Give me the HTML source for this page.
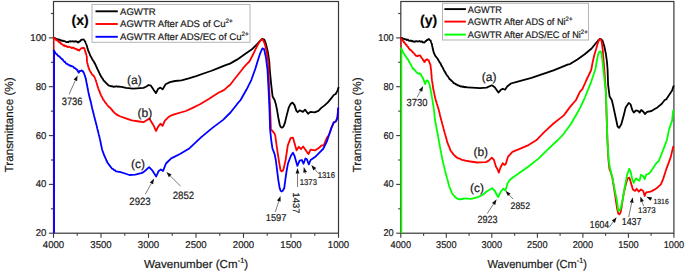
<!DOCTYPE html>
<html><head><meta charset="utf-8"><style>
html,body{margin:0;padding:0;background:#fff;}
body{width:685px;height:272px;overflow:hidden;position:relative;}
svg{position:absolute;left:0;top:0;}
text{text-rendering:geometricPrecision;font-family:"Liberation Sans",sans-serif;fill:#1a1a1a;stroke:#1a1a1a;stroke-width:0.2px;}
.tk{font-size:9.9px;}
.an{font-size:9.5px;}
.an2{font-size:8.3px;}
.lg{font-size:9.6px;}
.lb{font-size:11.6px;}
.lby{font-size:11.7px;}
.pl{font-size:12px;}
.bd{font-size:14px;font-weight:bold;fill:#000;}
</style></head><body>
<svg width="685" height="272" viewBox="0 0 685 272">
<rect x="53.5" y="1.5" width="285.0" height="231.7" fill="none" stroke="#383838" stroke-width="1.2"/>
<line x1="48.9" y1="233.2" x2="53.5" y2="233.2" stroke="#383838" stroke-width="1.1"/>
<line x1="50.9" y1="208.8" x2="53.5" y2="208.8" stroke="#383838" stroke-width="1.1"/>
<line x1="48.9" y1="184.4" x2="53.5" y2="184.4" stroke="#383838" stroke-width="1.1"/>
<line x1="50.9" y1="160.0" x2="53.5" y2="160.0" stroke="#383838" stroke-width="1.1"/>
<line x1="48.9" y1="135.6" x2="53.5" y2="135.6" stroke="#383838" stroke-width="1.1"/>
<line x1="50.9" y1="111.1" x2="53.5" y2="111.1" stroke="#383838" stroke-width="1.1"/>
<line x1="48.9" y1="86.7" x2="53.5" y2="86.7" stroke="#383838" stroke-width="1.1"/>
<line x1="50.9" y1="62.3" x2="53.5" y2="62.3" stroke="#383838" stroke-width="1.1"/>
<line x1="48.9" y1="37.9" x2="53.5" y2="37.9" stroke="#383838" stroke-width="1.1"/>
<line x1="50.9" y1="13.5" x2="53.5" y2="13.5" stroke="#383838" stroke-width="1.1"/>
<line x1="53.5" y1="233.2" x2="53.5" y2="237.79999999999998" stroke="#383838" stroke-width="1.1"/>
<line x1="77.2" y1="233.2" x2="77.2" y2="235.79999999999998" stroke="#383838" stroke-width="1.1"/>
<line x1="101.0" y1="233.2" x2="101.0" y2="237.79999999999998" stroke="#383838" stroke-width="1.1"/>
<line x1="124.8" y1="233.2" x2="124.8" y2="235.79999999999998" stroke="#383838" stroke-width="1.1"/>
<line x1="148.5" y1="233.2" x2="148.5" y2="237.79999999999998" stroke="#383838" stroke-width="1.1"/>
<line x1="172.2" y1="233.2" x2="172.2" y2="235.79999999999998" stroke="#383838" stroke-width="1.1"/>
<line x1="196.0" y1="233.2" x2="196.0" y2="237.79999999999998" stroke="#383838" stroke-width="1.1"/>
<line x1="219.8" y1="233.2" x2="219.8" y2="235.79999999999998" stroke="#383838" stroke-width="1.1"/>
<line x1="243.5" y1="233.2" x2="243.5" y2="237.79999999999998" stroke="#383838" stroke-width="1.1"/>
<line x1="267.2" y1="233.2" x2="267.2" y2="235.79999999999998" stroke="#383838" stroke-width="1.1"/>
<line x1="291.0" y1="233.2" x2="291.0" y2="237.79999999999998" stroke="#383838" stroke-width="1.1"/>
<line x1="314.8" y1="233.2" x2="314.8" y2="235.79999999999998" stroke="#383838" stroke-width="1.1"/>
<line x1="338.5" y1="233.2" x2="338.5" y2="237.79999999999998" stroke="#383838" stroke-width="1.1"/>
<text class="tk" transform="translate(46.40,236.20) scale(0.975,1)" text-anchor="end">20</text>
<text class="tk" transform="translate(46.40,187.38) scale(0.975,1)" text-anchor="end">40</text>
<text class="tk" transform="translate(46.40,138.56) scale(0.975,1)" text-anchor="end">60</text>
<text class="tk" transform="translate(46.40,89.74) scale(0.975,1)" text-anchor="end">80</text>
<text class="tk" transform="translate(46.40,40.92) scale(0.975,1)" text-anchor="end">100</text>
<text class="tk" transform="translate(53.50,247.60) scale(0.975,1)" text-anchor="middle">4000</text>
<text class="tk" transform="translate(101.00,247.60) scale(0.975,1)" text-anchor="middle">3500</text>
<text class="tk" transform="translate(148.50,247.60) scale(0.975,1)" text-anchor="middle">3000</text>
<text class="tk" transform="translate(196.00,247.60) scale(0.975,1)" text-anchor="middle">2500</text>
<text class="tk" transform="translate(243.50,247.60) scale(0.975,1)" text-anchor="middle">2000</text>
<text class="tk" transform="translate(291.00,247.60) scale(0.975,1)" text-anchor="middle">1500</text>
<text class="tk" transform="translate(338.50,247.60) scale(0.975,1)" text-anchor="middle">1000</text>
<line x1="54.0" y1="37.8" x2="54.0" y2="233.2" stroke="#f00" stroke-width="1.3" stroke-opacity="0.75"/>
<line x1="54.1" y1="50.0" x2="54.1" y2="233.2" stroke="#00f" stroke-width="1.7"/>
<polyline points="53.70,37.60 54.22,37.91 54.74,38.37 55.25,38.19 55.77,38.63 56.29,39.04 56.81,38.87 57.33,39.27 57.85,39.48 58.36,39.80 58.88,39.27 59.40,39.90 59.96,39.77 60.52,40.69 61.08,40.63 61.65,40.36 62.21,40.96 62.77,40.62 63.33,40.96 63.89,41.20 64.45,41.18 65.02,41.27 65.58,41.77 66.14,42.06 66.70,42.10 67.25,41.85 67.80,42.07 68.35,42.27 68.90,41.35 69.45,41.46 70.00,41.21 70.55,41.65 71.10,41.40 71.68,41.32 72.26,41.35 72.83,41.17 73.41,41.65 73.99,41.63 74.57,41.35 75.14,41.69 75.72,41.16 76.30,41.40 76.85,41.53 77.40,42.36 77.95,41.98 78.50,42.50 78.91,41.81 79.33,41.34 79.74,41.54 80.16,41.30 80.57,40.24 80.99,40.25 81.40,39.90 81.95,39.71 82.50,39.55 83.05,39.36 83.60,39.50 83.97,39.87 84.35,40.13 84.72,41.30 85.10,41.40 85.31,41.64 85.53,42.46 85.74,43.07 85.96,43.60 86.17,43.95 86.39,44.51 86.60,45.00 86.76,45.97 86.91,45.86 87.07,46.46 87.22,47.13 87.38,48.11 87.53,48.40 87.69,48.95 87.84,49.24 88.00,50.20 88.24,50.41 88.48,51.44 88.72,51.61 88.96,52.36 89.20,52.71 89.44,53.33 89.68,53.77 89.80,54.25 89.92,54.97 90.16,55.26 90.40,55.70 90.67,56.24 90.94,56.54 91.21,57.35 91.48,57.64 91.75,58.05 92.02,58.88 92.29,59.31 92.56,59.84 92.83,60.21 93.10,60.60 93.42,60.93 93.73,61.57 94.05,61.99 94.37,62.84 94.68,62.89 95.00,63.70 95.24,64.41 95.49,64.57 95.73,65.18 95.98,65.91 96.22,66.47 96.47,66.91 96.71,67.47 96.96,68.02 97.20,68.50 97.44,69.08 97.69,69.31 97.93,69.95 98.18,70.30 98.42,71.15 98.67,71.51 98.91,72.00 99.16,72.54 99.40,73.20 99.66,73.96 99.93,73.98 100.19,74.94 100.45,75.44 100.71,75.52 100.97,76.40 101.24,76.52 101.50,77.20 101.83,77.77 102.16,77.94 102.49,78.55 102.81,79.14 103.14,79.55 103.47,80.31 103.80,80.60 104.24,81.17 104.68,81.28 105.12,82.07 105.56,82.27 106.00,83.00 106.44,83.20 106.88,83.73 107.32,84.09 107.76,84.63 108.20,85.00 108.78,85.54 109.35,85.67 109.92,85.78 110.50,86.00 111.20,86.37 111.90,86.13 112.60,86.50 113.15,86.63 113.70,86.78 114.25,86.77 114.80,86.51 115.35,86.56 115.90,86.43 116.45,86.46 117.00,86.50 121.50,86.80 125.90,87.90 133.20,88.70 143.50,87.90 146.00,86.80 148.70,85.00 150.90,85.70 153.80,90.10 156.00,93.10 158.20,88.70 160.40,87.60 162.60,89.40 165.60,84.30 170.00,82.10 175.00,81.00 181.50,80.30 188.80,78.40 196.20,76.20 203.50,73.50 210.90,71.00 218.20,68.10 225.60,65.10 230.00,63.60 237.40,59.40 244.70,54.30 251.60,49.60 257.10,44.10 259.80,41.20 262.10,38.90 264.30,39.70 265.50,42.50 266.50,46.30 267.50,50.50 268.20,54.00 269.30,62.00 269.80,70.00 271.20,84.70 272.60,96.50 274.60,100.00 275.80,103.90 277.10,110.30 278.40,118.00 279.70,124.50 280.60,126.80 281.60,127.70 282.60,127.40 283.50,126.40 284.80,123.20 286.70,115.40 288.70,107.70 290.60,103.90 292.50,102.60 294.50,105.10 296.40,110.90 297.70,112.20 299.60,110.30 302.90,111.90 305.10,109.70 308.10,113.80 310.30,111.90 314.70,112.40 318.40,110.90 321.30,107.90 324.30,105.60 327.90,102.40 331.60,97.90 333.80,95.00 335.70,94.00 337.60,90.30 338.50,87.60" fill="none" stroke="#000" stroke-width="1.8" stroke-linejoin="round" stroke-linecap="round"/>
<polyline points="53.70,37.80 54.18,38.53 54.65,38.19 55.12,38.93 55.60,39.22 56.08,40.00 56.55,39.84 57.02,40.26 57.50,40.74 57.98,40.92 58.45,41.75 58.92,42.08 59.40,42.10 59.85,42.66 60.30,42.43 60.75,43.63 61.20,43.59 61.65,44.00 62.10,44.31 62.55,44.65 63.00,45.00 63.53,45.60 64.06,45.22 64.59,45.32 65.11,46.31 65.64,45.86 66.17,46.09 66.70,46.50 67.25,46.58 67.80,47.13 68.35,46.80 68.90,46.61 69.45,46.98 70.00,47.08 70.55,47.03 71.10,47.60 71.70,48.03 72.30,47.97 72.90,47.51 73.50,47.69 74.10,48.00 74.68,48.71 75.26,48.74 75.84,48.79 76.42,49.19 77.00,49.40 77.55,50.11 78.10,49.72 78.65,50.34 79.20,50.50 79.64,49.62 80.08,49.61 80.52,48.94 80.96,48.60 81.40,48.30 81.95,48.03 82.50,47.88 83.05,48.13 83.60,47.60 83.97,48.08 84.33,48.37 84.70,49.40 84.86,50.23 85.01,50.84 85.17,51.29 85.33,51.33 85.49,51.91 85.64,52.81 85.80,53.10 85.97,53.29 86.13,53.84 86.30,54.81 86.47,55.12 86.63,55.90 86.80,56.50 86.82,56.76 86.84,58.05 86.87,58.20 86.89,58.63 86.91,59.16 86.93,59.70 86.96,60.72 86.98,61.30 87.00,61.60 87.14,62.41 87.28,63.09 87.42,63.34 87.57,63.70 87.71,64.28 87.85,64.57 87.99,65.33 88.13,65.99 88.28,66.88 88.42,67.17 88.56,67.29 88.70,68.20 88.98,68.78 89.25,69.16 89.53,70.13 89.80,70.70 90.08,71.04 90.35,71.64 90.62,71.98 90.90,72.60 91.30,73.20 91.70,73.83 92.10,74.40 92.54,75.03 92.98,75.17 93.42,75.61 93.86,76.28 94.30,76.60 94.51,77.12 94.73,77.57 94.94,78.13 95.16,78.61 95.37,79.04 95.59,79.85 95.80,80.30 95.97,81.10 96.14,81.54 96.31,82.07 96.48,82.45 96.65,83.07 96.82,83.46 96.98,84.37 97.15,84.67 97.32,85.23 97.49,86.20 97.66,86.38 97.83,87.33 98.00,87.60 98.20,88.21 98.40,88.83 98.60,89.29 98.80,89.55 99.00,90.41 99.20,90.67 99.40,91.30 99.60,91.67 99.80,92.16 100.00,92.88 100.20,93.50 100.46,93.74 100.73,94.50 100.99,95.32 101.25,95.94 101.52,96.14 101.78,96.48 102.05,97.16 102.31,97.53 102.57,98.16 102.84,98.94 103.10,99.40 103.47,99.99 103.83,100.15 104.20,100.94 104.57,101.42 104.93,101.92 105.30,102.50 105.67,102.75 106.03,103.37 106.40,103.66 106.77,104.48 107.13,104.92 107.50,105.30 107.95,105.85 108.40,106.19 108.85,107.00 109.30,107.20 109.78,107.57 110.25,107.92 110.72,108.47 111.20,109.00 111.60,109.72 112.00,109.74 112.40,110.57 112.80,111.15 113.20,111.57 113.60,111.81 114.00,112.30 114.44,112.64 114.89,113.27 115.33,113.54 115.77,113.97 116.21,113.96 116.66,114.59 117.10,114.90 120.50,116.50 124.40,117.80 131.80,120.30 139.10,121.50 143.50,122.20 149.40,118.50 151.60,122.20 153.80,125.90 156.00,131.00 158.20,126.60 160.40,123.70 162.60,125.90 164.90,120.70 168.50,117.10 171.50,115.30 175.00,114.10 185.90,111.00 193.20,107.60 200.00,104.30 209.20,98.80 218.40,92.80 223.90,90.10 227.60,86.80 230.00,85.00 234.80,78.80 239.00,73.50 243.10,68.20 246.50,64.30 249.40,61.50 251.50,57.50 253.80,53.00 256.00,48.20 258.20,44.10 260.00,41.20 261.30,39.60 262.30,39.30 263.20,40.30 264.40,43.00 265.40,46.30 266.30,50.00 267.00,54.00 268.20,62.00 268.60,70.00 269.00,84.70 269.70,99.40 270.40,115.00 270.90,129.40 272.40,130.90 274.60,133.80 275.30,136.00 276.80,146.80 279.00,161.50 280.50,170.30 281.60,171.40 282.70,170.80 283.60,169.00 285.60,160.00 287.80,145.30 290.70,137.90 292.90,137.60 294.70,143.80 296.60,150.40 298.80,146.80 301.00,149.00 303.20,146.50 305.40,149.70 308.40,154.10 310.60,149.70 315.00,150.40 319.40,147.50 321.60,145.30 323.80,145.30 326.80,137.90 329.00,135.00 331.40,128.00 333.80,122.60 336.00,121.50 337.50,117.30 338.20,108.50" fill="none" stroke="#f00" stroke-width="1.8" stroke-linejoin="round" stroke-linecap="round"/>
<polyline points="53.70,50.60 54.07,50.71 54.43,51.97 54.80,51.73 55.17,52.75 55.53,53.32 55.90,53.50 56.31,54.09 56.72,54.06 57.13,54.48 57.54,55.18 57.95,55.77 58.36,55.87 58.77,56.13 59.18,56.36 59.59,56.75 60.00,57.20 60.41,57.81 60.83,57.96 61.24,58.47 61.65,58.97 62.06,59.38 62.47,59.26 62.89,59.85 63.30,60.50 63.71,61.10 64.12,61.39 64.54,62.04 64.95,61.75 65.36,62.32 65.77,62.98 66.19,63.61 66.60,63.80 67.15,63.81 67.70,64.60 68.25,64.57 68.80,64.76 69.35,65.51 69.90,65.50 70.46,65.37 71.02,66.33 71.58,65.99 72.14,66.26 72.70,66.60 73.25,66.73 73.80,67.37 74.35,68.11 74.90,68.20 75.34,68.29 75.78,68.93 76.22,69.17 76.66,69.38 77.10,69.90 77.42,70.11 77.74,71.16 78.06,71.44 78.38,72.03 78.70,72.60 79.07,72.16 79.43,71.18 79.80,71.00 80.37,71.09 80.93,70.95 81.50,70.40 82.07,70.55 82.63,71.42 83.20,71.50 83.43,72.24 83.66,72.43 83.89,72.96 84.11,73.35 84.34,74.21 84.57,74.80 84.80,75.40 84.96,75.95 85.11,76.50 85.27,77.12 85.43,77.29 85.59,77.94 85.74,78.80 85.90,79.30 86.01,79.85 86.12,80.15 86.23,80.81 86.34,82.01 86.45,82.42 86.56,82.92 86.67,83.16 86.78,83.79 86.89,84.61 87.00,85.00 87.12,85.71 87.25,86.43 87.38,86.53 87.50,87.60 87.62,88.36 87.73,88.47 87.85,89.15 87.96,89.90 88.08,90.85 88.19,90.93 88.31,91.72 88.42,91.89 88.54,93.12 88.65,93.07 88.77,93.90 88.88,94.59 89.00,95.00 89.14,95.73 89.28,96.05 89.41,96.78 89.55,96.76 89.62,97.73 89.69,98.19 89.83,98.35 89.96,98.94 90.10,99.18 90.24,99.93 90.38,100.63 90.51,100.97 90.65,101.26 90.79,101.88 90.86,102.26 90.92,103.04 91.06,102.99 91.20,103.80 91.33,104.65 91.45,104.77 91.58,105.47 91.71,106.29 91.84,106.53 91.96,107.19 92.09,107.54 92.22,108.59 92.35,109.16 92.47,109.24 92.60,110.00 92.74,110.31 92.87,111.06 93.01,111.62 93.15,112.31 93.28,112.59 93.42,113.27 93.55,113.55 93.69,114.12 93.83,114.57 93.96,115.39 94.10,115.90 94.24,116.49 94.39,117.08 94.53,117.83 94.67,118.01 94.81,118.59 94.96,119.22 95.10,120.07 95.24,120.24 95.39,120.79 95.53,121.43 95.67,122.14 95.81,122.45 95.96,122.95 96.10,123.84 96.24,124.30 96.39,124.86 96.53,125.08 96.67,125.78 96.81,126.25 96.96,126.96 97.10,127.60 97.23,128.38 97.36,128.97 97.50,129.42 97.63,129.67 97.76,130.32 97.89,131.06 98.02,131.26 98.15,131.83 98.29,132.56 98.42,132.87 98.55,133.48 98.68,133.95 98.81,134.77 98.95,135.12 99.08,135.40 99.21,135.89 99.34,136.80 99.47,137.02 99.60,137.89 99.74,138.16 99.87,138.88 100.00,139.40 100.12,139.86 100.23,140.61 100.35,140.85 100.46,141.58 100.58,142.28 100.69,142.60 100.81,143.60 100.93,144.16 101.04,144.70 101.16,145.24 101.27,145.80 101.39,146.14 101.51,146.86 101.62,147.15 101.74,147.51 101.85,148.58 101.97,149.14 102.08,149.30 102.20,150.00 102.40,150.46 102.60,150.91 102.80,151.74 103.00,151.95 103.20,152.87 103.40,152.94 103.60,153.70 103.80,154.46 104.00,154.82 104.20,155.15 104.40,155.90 104.63,156.13 104.86,157.02 105.09,157.17 105.32,157.80 105.55,158.50 105.78,158.83 106.02,159.18 106.25,160.14 106.48,160.60 106.71,161.04 106.94,161.24 107.17,161.98 107.40,162.50 107.74,163.23 108.08,163.41 108.42,163.71 108.75,164.58 109.09,164.68 109.43,165.24 109.77,165.48 110.11,166.35 110.45,166.69 110.78,167.06 111.12,167.49 111.46,167.85 111.80,168.40 112.29,168.70 112.78,169.05 113.27,169.08 113.76,169.82 114.24,170.16 114.73,170.05 115.22,170.44 115.71,171.11 116.20,171.30 120.60,172.10 125.00,173.50 129.40,175.00 135.30,174.70 141.20,173.20 143.20,172.40 146.00,170.00 149.10,167.20 152.00,170.10 156.20,176.50 158.70,170.90 160.90,169.40 163.10,170.90 166.00,163.50 171.20,158.40 180.00,154.00 188.80,148.80 192.80,145.10 201.00,137.40 212.10,128.10 223.10,119.90 230.50,112.50 237.00,104.20 240.60,100.00 243.40,95.00 246.40,89.80 251.40,79.80 255.50,68.20 258.00,60.00 260.10,53.50 262.40,48.40 264.10,49.10 266.00,57.90 267.50,70.00 268.60,90.00 269.50,110.00 270.10,129.40 271.20,140.00 272.40,148.20 274.60,154.10 275.80,160.00 277.10,170.30 278.40,180.60 279.70,188.30 280.60,190.80 281.60,191.50 282.70,190.80 284.20,188.30 285.40,179.30 286.70,170.30 287.90,163.80 290.70,156.30 292.90,152.60 294.40,155.60 297.40,165.90 299.60,160.70 301.80,160.00 303.50,163.70 305.40,158.50 306.90,159.30 308.80,164.40 310.60,160.00 315.00,157.10 319.40,152.60 323.10,149.00 326.80,141.60 329.00,135.00 331.60,127.40 333.80,122.20 336.00,121.20 337.50,117.10 338.20,108.20" fill="none" stroke="#00f" stroke-width="1.8" stroke-linejoin="round" stroke-linecap="round"/>
<rect x="92" y="4.5" width="158" height="37.8" fill="#fff" stroke="#b4b4b4" stroke-width="1"/>
<line x1="95.5" y1="11.3" x2="117.8" y2="11.3" stroke="#000" stroke-width="1.9"/>
<text class="lg" x="120.00" y="14.70">AGWTR</text>
<line x1="95.5" y1="24.0" x2="117.8" y2="24.0" stroke="#f00" stroke-width="1.9"/>
<text class="lg" x="120.00" y="27.40">AGWTR After ADS of Cu<tspan dy="-4.3" font-size="6.3">2+</tspan></text>
<line x1="95.5" y1="36.8" x2="117.8" y2="36.8" stroke="#00f" stroke-width="1.9"/>
<text class="lg" x="120.00" y="40.20">AGWTR After ADS/EC of Cu<tspan dy="-4.3" font-size="6.3">2+</tspan></text>
<text class="bd" x="71.50" y="24.90">(x)</text>
<text class="lb" x="144.00" y="267.60">Wavenumber (Cm<tspan dy="-4.5" font-size="7.5">-1</tspan><tspan dy="4.5">)</tspan></text>
<text class="lby" transform="translate(13.1,172.4) rotate(-90)">Transmittance (%)</text>
<rect x="400.8" y="1.5" width="273.09999999999997" height="231.7" fill="none" stroke="#383838" stroke-width="1.2"/>
<line x1="396.2" y1="233.2" x2="400.8" y2="233.2" stroke="#383838" stroke-width="1.1"/>
<line x1="398.2" y1="208.8" x2="400.8" y2="208.8" stroke="#383838" stroke-width="1.1"/>
<line x1="396.2" y1="184.4" x2="400.8" y2="184.4" stroke="#383838" stroke-width="1.1"/>
<line x1="398.2" y1="160.0" x2="400.8" y2="160.0" stroke="#383838" stroke-width="1.1"/>
<line x1="396.2" y1="135.6" x2="400.8" y2="135.6" stroke="#383838" stroke-width="1.1"/>
<line x1="398.2" y1="111.1" x2="400.8" y2="111.1" stroke="#383838" stroke-width="1.1"/>
<line x1="396.2" y1="86.7" x2="400.8" y2="86.7" stroke="#383838" stroke-width="1.1"/>
<line x1="398.2" y1="62.3" x2="400.8" y2="62.3" stroke="#383838" stroke-width="1.1"/>
<line x1="396.2" y1="37.9" x2="400.8" y2="37.9" stroke="#383838" stroke-width="1.1"/>
<line x1="398.2" y1="13.5" x2="400.8" y2="13.5" stroke="#383838" stroke-width="1.1"/>
<line x1="400.8" y1="233.2" x2="400.8" y2="237.79999999999998" stroke="#383838" stroke-width="1.1"/>
<line x1="423.6" y1="233.2" x2="423.6" y2="235.79999999999998" stroke="#383838" stroke-width="1.1"/>
<line x1="446.3" y1="233.2" x2="446.3" y2="237.79999999999998" stroke="#383838" stroke-width="1.1"/>
<line x1="469.1" y1="233.2" x2="469.1" y2="235.79999999999998" stroke="#383838" stroke-width="1.1"/>
<line x1="491.8" y1="233.2" x2="491.8" y2="237.79999999999998" stroke="#383838" stroke-width="1.1"/>
<line x1="514.6" y1="233.2" x2="514.6" y2="235.79999999999998" stroke="#383838" stroke-width="1.1"/>
<line x1="537.4" y1="233.2" x2="537.4" y2="237.79999999999998" stroke="#383838" stroke-width="1.1"/>
<line x1="560.1" y1="233.2" x2="560.1" y2="235.79999999999998" stroke="#383838" stroke-width="1.1"/>
<line x1="582.9" y1="233.2" x2="582.9" y2="237.79999999999998" stroke="#383838" stroke-width="1.1"/>
<line x1="605.6" y1="233.2" x2="605.6" y2="235.79999999999998" stroke="#383838" stroke-width="1.1"/>
<line x1="628.4" y1="233.2" x2="628.4" y2="237.79999999999998" stroke="#383838" stroke-width="1.1"/>
<line x1="651.1" y1="233.2" x2="651.1" y2="235.79999999999998" stroke="#383838" stroke-width="1.1"/>
<line x1="673.9" y1="233.2" x2="673.9" y2="237.79999999999998" stroke="#383838" stroke-width="1.1"/>
<text class="tk" transform="translate(393.70,236.20) scale(0.931,1)" text-anchor="end">20</text>
<text class="tk" transform="translate(393.70,187.38) scale(0.931,1)" text-anchor="end">40</text>
<text class="tk" transform="translate(393.70,138.56) scale(0.931,1)" text-anchor="end">60</text>
<text class="tk" transform="translate(393.70,89.74) scale(0.931,1)" text-anchor="end">80</text>
<text class="tk" transform="translate(393.70,40.92) scale(0.931,1)" text-anchor="end">100</text>
<text class="tk" transform="translate(400.80,247.60) scale(0.931,1)" text-anchor="middle">4000</text>
<text class="tk" transform="translate(446.32,247.60) scale(0.931,1)" text-anchor="middle">3500</text>
<text class="tk" transform="translate(491.83,247.60) scale(0.931,1)" text-anchor="middle">3000</text>
<text class="tk" transform="translate(537.35,247.60) scale(0.931,1)" text-anchor="middle">2500</text>
<text class="tk" transform="translate(582.87,247.60) scale(0.931,1)" text-anchor="middle">2000</text>
<text class="tk" transform="translate(628.38,247.60) scale(0.931,1)" text-anchor="middle">1500</text>
<text class="tk" transform="translate(673.90,247.60) scale(0.931,1)" text-anchor="middle">1000</text>
<line x1="401.3" y1="38" x2="401.3" y2="233.2" stroke="#f00" stroke-width="1.3" stroke-opacity="0.75"/>
<line x1="401.40000000000003" y1="47.8" x2="401.40000000000003" y2="233.2" stroke="#0f0" stroke-width="1.7"/>
<polyline points="400.90,37.80 401.45,37.80 402.00,37.92 402.55,38.59 403.10,38.54 403.65,38.90 404.20,38.78 404.75,39.38 405.30,39.48 405.85,39.37 406.40,39.50 406.96,40.07 407.52,39.64 408.08,39.75 408.65,40.54 409.21,40.75 409.77,40.78 410.33,40.89 410.89,40.44 411.45,40.80 412.02,41.44 412.58,40.92 413.14,41.36 413.70,41.70 414.29,41.39 414.88,41.95 415.47,41.24 416.06,41.06 416.65,41.19 417.24,41.66 417.83,41.30 418.42,41.47 419.01,41.32 419.60,41.00 420.15,41.52 420.70,41.82 421.25,41.69 421.80,41.35 422.35,41.57 422.90,42.48 423.45,42.36 424.00,42.50 424.41,42.58 424.83,41.87 425.24,41.83 425.66,40.93 426.07,41.00 426.49,40.60 426.90,39.90 427.45,40.06 428.00,39.43 428.55,39.11 429.10,39.10 429.60,39.77 430.10,40.26 430.60,40.60 430.82,41.00 431.04,42.01 431.26,42.74 431.48,43.31 431.70,43.60 431.82,43.87 431.94,44.76 432.07,45.48 432.19,45.97 432.31,46.20 432.43,46.69 432.56,47.67 432.68,48.51 432.80,48.70 432.94,48.86 433.07,50.04 433.21,50.11 433.35,50.76 433.49,51.79 433.62,52.15 433.76,52.12 433.90,53.00 434.16,53.42 434.42,53.99 434.68,54.71 434.94,55.28 435.20,55.60 435.54,56.33 435.89,56.35 436.23,57.13 436.57,57.47 436.91,57.76 437.26,58.31 437.60,58.80 437.90,59.39 438.20,59.56 438.50,60.49 438.80,60.83 439.10,61.22 439.40,61.95 439.70,62.41 440.00,62.80 440.30,63.04 440.60,63.85 440.90,64.30 441.16,64.97 441.42,65.53 441.67,66.02 441.93,66.27 442.19,66.73 442.45,67.08 442.71,67.57 442.97,68.18 443.23,68.55 443.48,69.09 443.74,69.86 444.00,70.20 444.30,70.81 444.60,71.53 444.90,72.00 445.20,72.30 445.50,72.82 445.80,73.60 446.14,73.99 446.47,74.74 446.81,74.78 447.15,75.54 447.48,76.22 447.82,76.25 448.15,76.76 448.49,77.35 448.83,77.65 449.16,78.60 449.50,78.80 449.90,79.36 450.30,79.40 450.70,79.74 451.10,80.58 451.50,80.93 451.90,81.10 452.30,81.32 452.70,81.74 453.10,82.32 453.50,83.07 453.90,83.20 454.39,83.47 454.88,83.50 455.38,83.79 455.87,84.27 456.36,84.33 456.85,84.61 457.34,85.24 457.83,85.25 458.32,85.38 458.82,85.46 459.31,85.93 459.80,86.20 460.36,86.12 460.92,86.63 461.48,86.40 462.05,86.68 462.61,86.83 463.17,86.53 463.73,86.92 464.29,87.23 464.85,86.78 465.42,86.90 465.98,87.09 466.54,87.46 467.10,87.40 475.90,87.90 480.00,88.20 486.60,87.60 491.80,85.30 494.70,87.20 498.40,92.60 500.60,90.10 502.80,88.70 505.00,89.70 507.20,86.50 510.90,83.50 516.80,81.80 524.10,79.90 531.50,77.90 538.80,75.40 546.20,72.90 553.50,70.30 560.90,67.40 568.20,64.40 570.00,64.10 577.40,59.40 584.70,54.30 591.60,48.50 596.00,43.00 598.20,40.50 599.90,38.80 601.30,39.30 602.60,40.80 604.30,46.30 605.90,54.00 607.00,62.00 607.60,70.00 608.10,84.70 609.60,96.50 611.80,100.00 613.20,105.90 615.40,116.20 617.60,126.50 619.10,127.90 621.30,124.30 623.50,116.20 625.70,107.40 628.70,102.90 630.60,104.40 632.40,110.30 633.80,112.50 636.00,110.30 638.20,111.00 639.70,112.50 641.20,110.00 643.40,111.80 644.90,114.00 647.10,111.80 651.50,111.00 655.10,108.80 657.40,107.40 661.80,103.70 664.70,100.00 666.20,99.40 669.10,95.00 672.10,90.60 673.50,86.20" fill="none" stroke="#000" stroke-width="1.8" stroke-linejoin="round" stroke-linecap="round"/>
<polyline points="400.90,38.00 401.26,38.48 401.61,38.91 401.97,39.75 402.33,40.21 402.69,40.69 403.04,40.82 403.40,41.40 403.77,42.26 404.15,42.02 404.52,43.01 404.90,43.35 405.27,43.37 405.65,44.50 406.02,44.71 406.40,45.00 406.76,45.08 407.12,46.15 407.49,46.55 407.85,46.87 408.21,46.87 408.57,47.92 408.94,48.66 409.30,48.70 409.71,49.49 410.13,49.35 410.54,50.09 410.96,50.05 411.37,50.79 411.79,50.94 412.20,51.60 412.65,52.10 413.10,52.25 413.55,53.00 414.00,53.50 414.43,53.82 414.87,54.12 415.30,55.09 415.73,55.55 416.17,55.67 416.60,56.00 417.15,56.18 417.70,55.94 418.25,55.98 418.80,55.44 419.35,55.38 419.90,55.50 420.27,55.78 420.63,56.41 421.00,56.86 421.37,57.67 421.73,58.03 422.10,58.20 422.38,58.54 422.65,59.06 422.93,59.84 423.20,60.36 423.48,60.23 423.75,61.06 424.03,61.17 424.30,62.10 424.67,61.81 425.03,61.60 425.40,60.41 425.77,60.30 426.13,60.16 426.50,59.30 427.05,59.40 427.60,59.44 428.15,60.20 428.70,60.40 428.91,61.04 429.12,61.64 429.34,62.39 429.55,62.49 429.76,63.25 429.97,64.09 430.19,63.96 430.40,64.80 430.48,64.98 430.56,66.03 430.63,66.23 430.71,67.40 430.79,68.04 430.87,68.40 430.94,68.99 431.02,69.58 431.10,70.00 431.14,70.11 431.19,70.67 431.23,71.26 431.28,72.39 431.32,73.08 431.36,73.11 431.41,73.58 431.45,74.39 431.49,75.20 431.54,75.66 431.58,75.62 431.62,76.27 431.67,76.80 431.71,78.13 431.76,78.69 431.80,78.80 431.88,78.97 431.97,80.23 432.05,80.95 432.13,81.50 432.22,81.43 432.30,82.61 432.38,82.52 432.47,82.93 432.55,83.57 432.63,84.11 432.72,85.51 432.80,85.65 432.88,86.46 432.97,86.66 433.05,87.44 433.13,88.24 433.22,88.31 433.30,89.10 433.42,90.06 433.53,89.74 433.65,91.00 433.76,90.93 433.88,91.88 433.99,92.16 434.11,93.17 434.23,93.15 434.34,93.87 434.46,94.72 434.57,95.18 434.69,95.45 434.81,95.87 434.92,97.03 435.04,97.38 435.15,97.34 435.27,98.17 435.38,98.71 435.50,99.40 435.67,100.35 435.83,100.10 436.00,101.26 436.16,101.29 436.32,101.93 436.49,102.30 436.66,103.47 436.82,104.03 436.99,104.08 437.15,104.49 437.31,105.17 437.48,106.15 437.64,105.94 437.81,106.55 437.98,107.05 438.06,107.81 438.14,108.21 438.31,108.10 438.47,108.94 438.63,109.77 438.80,110.00 438.93,110.53 439.07,111.40 439.20,111.54 439.33,112.31 439.47,112.79 439.60,113.25 439.73,113.71 439.87,114.69 440.00,115.12 440.13,115.72 440.27,116.42 440.40,116.95 440.53,117.22 440.67,118.05 440.80,118.50 440.95,119.30 441.10,119.84 441.24,119.87 441.39,120.48 441.54,120.99 441.69,121.49 441.83,122.14 441.98,122.90 442.13,123.28 442.28,123.92 442.43,124.42 442.57,125.21 442.72,125.28 442.87,125.82 443.02,126.77 443.17,126.94 443.31,127.44 443.46,128.47 443.61,129.00 443.76,129.23 443.90,130.20 444.05,130.47 444.20,131.00 444.35,131.26 444.50,132.17 444.65,132.68 444.80,133.32 444.95,133.66 445.10,134.32 445.25,134.56 445.40,135.14 445.55,136.13 445.70,136.67 445.85,136.80 446.00,137.36 446.15,137.95 446.30,138.56 446.45,139.14 446.60,139.52 446.75,140.33 446.90,140.64 447.05,141.65 447.20,142.00 447.41,142.72 447.61,142.92 447.82,143.60 448.02,143.86 448.23,144.88 448.44,145.40 448.64,145.63 448.85,145.90 449.06,146.78 449.26,146.93 449.47,147.45 449.68,148.02 449.88,149.01 450.09,149.07 450.29,150.05 450.50,150.30 450.81,150.96 451.12,151.36 451.44,151.83 451.75,152.07 452.06,152.71 452.38,152.84 452.69,153.25 453.00,154.00 453.40,154.57 453.80,154.89 454.20,155.00 454.60,155.57 455.00,155.84 455.40,156.43 455.80,156.47 456.20,157.22 456.60,157.50 457.15,157.51 457.71,157.80 458.26,158.31 458.82,158.37 459.37,158.61 459.93,158.75 460.48,158.80 461.04,159.33 461.59,159.84 462.15,159.78 462.70,160.00 463.27,160.16 463.84,160.19 464.41,160.35 464.98,160.64 465.55,160.67 466.12,160.88 466.68,160.97 467.25,161.01 467.82,160.92 468.39,161.37 468.96,161.25 469.53,161.36 470.10,161.50 477.40,162.50 480.00,162.40 485.90,162.10 488.80,160.60 491.80,157.60 494.00,159.90 495.90,166.50 497.60,169.40 498.80,172.60 500.60,167.20 502.80,163.20 504.30,165.00 505.70,164.30 507.90,156.90 512.40,151.80 519.70,148.80 528.50,145.10 536.20,140.30 544.70,131.60 553.50,123.50 563.80,115.40 569.70,107.40 576.00,100.00 580.00,91.60 582.40,89.10 586.00,81.00 591.20,70.00 592.70,62.00 594.20,55.50 596.00,49.60 597.20,45.00 598.20,41.90 599.10,40.00 599.90,39.20 600.80,39.60 601.50,40.80 602.60,48.50 603.70,62.00 604.50,72.00 605.90,92.00 606.60,115.00 607.40,140.00 608.30,158.00 609.40,168.80 610.90,172.50 612.40,178.00 614.30,190.00 616.00,201.00 617.20,209.00 618.20,213.50 619.30,214.40 620.40,213.00 621.50,208.00 622.40,201.50 623.60,194.00 624.90,188.20 626.50,182.00 627.80,178.40 629.30,177.60 630.70,182.10 632.90,189.40 635.10,190.90 636.60,188.70 638.80,191.60 641.00,189.40 643.20,190.90 644.70,196.00 646.20,192.40 650.60,191.60 655.00,189.40 657.90,187.20 660.90,184.30 663.10,179.10 665.00,173.20 666.20,169.40 670.60,157.60 673.20,146.60" fill="none" stroke="#f00" stroke-width="1.8" stroke-linejoin="round" stroke-linecap="round"/>
<polyline points="400.90,48.40 401.20,49.20 401.50,49.06 401.80,50.06 402.10,50.36 402.40,50.99 402.70,51.38 403.00,51.88 403.30,52.64 403.60,53.30 403.90,53.50 404.21,53.68 404.53,54.68 404.84,55.02 405.16,55.37 405.47,56.03 405.79,56.56 406.10,56.97 406.41,57.26 406.73,58.03 407.04,58.46 407.36,58.67 407.67,58.84 407.99,59.44 408.30,60.10 408.57,60.38 408.85,60.97 409.12,61.96 409.40,61.73 409.68,62.79 409.95,63.12 410.23,63.36 410.50,64.22 410.77,64.42 411.05,64.79 411.32,65.67 411.60,66.17 411.88,66.77 412.15,66.94 412.43,67.57 412.70,68.00 413.10,68.73 413.50,69.18 413.90,69.10 414.30,69.74 414.70,69.96 415.10,70.27 415.50,70.79 415.90,71.78 416.30,71.91 416.70,72.30 417.10,72.90 417.70,73.36 418.30,73.53 418.90,73.78 419.50,73.26 420.10,73.70 420.47,73.82 420.83,74.29 421.20,75.06 421.57,75.90 421.93,76.43 422.30,76.60 422.50,77.25 422.70,77.96 422.90,78.28 423.10,78.39 423.30,78.84 423.50,79.43 423.70,80.30 423.91,80.51 424.13,81.49 424.34,81.93 424.56,82.49 424.77,82.90 424.99,83.66 425.20,84.00 425.41,83.56 425.63,83.13 425.84,82.31 426.06,81.92 426.27,80.91 426.49,81.22 426.70,80.30 427.40,80.57 428.10,81.00 428.31,81.24 428.53,82.27 428.74,82.28 428.96,82.88 429.17,83.37 429.39,83.75 429.60,84.70 429.72,85.18 429.83,85.74 429.95,86.37 430.06,87.12 430.18,87.86 430.29,87.94 430.41,88.37 430.52,89.62 430.64,89.84 430.75,90.70 430.87,91.00 430.98,91.86 431.10,92.10 431.19,92.25 431.29,92.91 431.38,94.07 431.48,93.88 431.57,94.90 431.66,95.36 431.76,96.20 431.85,96.62 431.94,97.13 432.04,97.73 432.13,97.70 432.23,98.71 432.32,99.12 432.41,99.88 432.51,100.06 432.60,100.90 432.69,101.22 432.78,101.85 432.86,103.04 432.95,103.22 433.04,103.46 433.12,104.57 433.21,105.29 433.30,105.37 433.39,105.79 433.48,106.29 433.56,106.92 433.65,107.90 433.74,108.20 433.82,109.30 433.91,109.58 434.00,110.00 434.05,110.30 434.10,111.20 434.15,111.52 434.20,111.89 434.25,112.67 434.30,113.40 434.35,114.30 434.40,114.41 434.45,115.21 434.50,115.94 434.55,116.02 434.60,116.46 434.65,117.33 434.70,117.97 434.75,117.89 434.80,118.80 434.90,119.48 435.01,119.69 435.11,120.45 435.22,121.25 435.32,121.45 435.43,122.41 435.53,122.78 435.64,123.26 435.74,123.85 435.85,124.77 435.95,124.74 436.06,125.19 436.16,125.93 436.27,126.66 436.37,127.35 436.48,127.62 436.58,128.47 436.69,129.27 436.79,129.67 436.90,130.02 437.00,130.60 437.10,131.36 437.21,131.75 437.31,132.08 437.42,133.09 437.52,133.49 437.63,133.93 437.73,134.81 437.84,135.27 437.94,135.48 438.05,135.97 438.15,136.71 438.26,137.18 438.36,137.69 438.47,138.52 438.57,138.84 438.68,139.86 438.78,140.13 438.89,140.52 438.99,141.32 439.10,141.91 439.20,142.40 439.30,142.85 439.40,143.68 439.50,143.94 439.60,144.87 439.70,144.96 439.80,145.60 439.90,146.24 440.00,146.65 440.10,147.15 440.20,148.07 440.30,148.21 440.40,149.15 440.50,149.43 440.60,150.00 440.71,150.49 440.82,151.26 440.93,151.53 441.04,152.49 441.15,152.57 441.26,153.65 441.37,154.23 441.48,154.60 441.59,154.99 441.70,155.53 441.80,156.35 441.91,156.95 442.02,157.49 442.13,158.01 442.24,158.42 442.35,159.29 442.46,159.54 442.57,160.05 442.68,160.50 442.79,161.06 442.90,161.80 443.04,162.07 443.18,162.97 443.31,163.73 443.45,164.12 443.59,164.84 443.73,165.04 443.87,165.99 444.00,166.30 444.14,166.68 444.28,167.27 444.42,167.75 444.56,168.30 444.70,169.25 444.83,169.64 444.97,170.02 445.11,170.96 445.25,171.41 445.39,172.05 445.52,172.34 445.66,173.24 445.80,173.50 445.95,173.94 446.10,174.73 446.25,175.02 446.40,175.82 446.55,175.93 446.70,176.50 446.85,177.41 447.00,178.05 447.15,178.35 447.30,179.16 447.45,179.16 447.60,180.00 447.74,180.50 447.87,180.99 448.01,181.48 448.15,182.13 448.28,182.94 448.42,182.99 448.55,183.92 448.69,184.28 448.83,184.63 448.96,185.63 449.10,185.90 449.31,186.59 449.53,187.05 449.74,187.58 449.96,188.05 450.17,188.24 450.39,189.25 450.60,189.43 450.81,190.13 451.03,190.71 451.24,191.12 451.46,191.77 451.67,192.37 451.89,192.87 452.10,193.20 452.46,193.86 452.82,194.32 453.18,194.81 453.54,195.18 453.90,195.58 454.26,195.73 454.62,196.43 454.98,196.97 455.34,197.30 455.70,197.60 456.23,197.79 456.76,198.06 457.29,198.57 457.81,198.92 458.34,199.08 458.87,199.17 459.40,199.40 459.99,199.07 460.58,199.41 461.17,199.13 461.76,198.93 462.35,199.13 462.94,198.79 463.53,198.43 464.12,198.63 464.71,198.71 465.30,198.40 471.20,198.80 477.10,197.40 482.90,194.70 486.60,191.50 490.00,189.50 492.10,188.20 494.90,191.00 496.60,194.50 498.20,197.00 499.60,194.00 501.00,191.50 503.20,188.80 505.40,190.40 506.50,187.10 507.60,183.30 509.80,180.00 513.10,177.20 516.40,175.00 518.20,173.80 528.50,166.50 538.80,158.40 547.60,149.60 557.90,140.00 563.80,133.80 571.20,123.50 577.10,113.20 580.00,108.10 583.80,100.00 585.30,96.50 591.20,81.80 595.60,68.50 596.60,62.00 598.20,54.00 599.50,51.60 600.40,51.30 601.50,53.00 602.60,62.00 603.60,72.00 605.90,92.10 606.60,115.00 607.40,140.00 608.70,160.00 610.10,168.80 612.40,177.60 614.60,189.40 616.80,200.00 618.40,211.00 620.60,208.80 622.60,200.00 624.90,186.50 627.10,174.70 629.30,168.80 630.70,171.80 632.20,179.10 633.70,182.80 635.90,178.40 638.10,179.90 639.60,180.60 641.00,174.70 643.20,176.20 644.70,179.10 646.20,174.70 648.40,174.00 650.60,171.80 653.50,167.40 656.50,162.90 658.80,161.00 661.80,153.20 664.70,145.90 666.90,140.00 669.10,129.40 672.10,120.60 673.20,110.30" fill="none" stroke="#0f0" stroke-width="1.8" stroke-linejoin="round" stroke-linecap="round"/>
<rect x="442.5" y="3.3" width="146.0" height="36.7" fill="#fff" stroke="#b4b4b4" stroke-width="1"/>
<line x1="444.4" y1="9.1" x2="465.9" y2="9.1" stroke="#000" stroke-width="1.9"/>
<text class="lg" transform="translate(467.80,12.50) scale(0.955,1)">AGWTR</text>
<line x1="444.4" y1="21.6" x2="465.9" y2="21.6" stroke="#f00" stroke-width="1.9"/>
<text class="lg" transform="translate(467.80,25.00) scale(0.955,1)">AGWTR After ADS of Ni<tspan dy="-4.3" font-size="6.3">2+</tspan></text>
<line x1="444.4" y1="34.6" x2="465.9" y2="34.6" stroke="#0f0" stroke-width="1.9"/>
<text class="lg" transform="translate(467.80,38.00) scale(0.955,1)">AGWTR After ADS/EC of Ni<tspan dy="-4.3" font-size="6.3">2+</tspan></text>
<text class="bd" x="420.00" y="24.90">(y)</text>
<text class="lb" transform="translate(487.40,267.60) scale(0.955,1)">Wavenumber (Cm<tspan dy="-4.5" font-size="7.5">-1</tspan><tspan dy="4.5">)</tspan></text>
<text class="lby" transform="translate(361.4,172.4) rotate(-90)">Transmittance (%)</text>
<text class="pl" x="127.00" y="83.60">(a)</text>
<text class="pl" x="137.50" y="117.40">(b)</text>
<text class="pl" x="131.00" y="167.80">(c)</text>
<text class="pl" x="481.80" y="80.70">(a)</text>
<text class="pl" x="473.40" y="155.60">(b)</text>
<text class="pl" x="469.90" y="192.00">(c)</text>
<text style="font-size:10.6px" transform="translate(61.73,104.7) scale(0.879,1)">3736</text>
<text style="font-size:10.67px" transform="translate(129.32,205.45) scale(0.899,1)">2923</text>
<text style="font-size:10.6px" transform="translate(172.72,198.6) scale(0.91,1)">2852</text>
<text style="font-size:10.01px" transform="translate(265.8,220.61) scale(0.928,1)">1597</text>
<text style="font-size:8.51px" transform="translate(299.72,185.02) scale(0.91,1)">1373</text>
<text style="font-size:8.51px" transform="translate(317.72,178.02) scale(0.913,1)">1316</text>
<text style="font-size:10.3px" transform="translate(406.62,105.9) scale(0.917,1)">3730</text>
<text style="font-size:10.45px" transform="translate(477.55,222.9) scale(0.865,1)">2923</text>
<text style="font-size:9.55px" transform="translate(510.56,208.81) scale(0.916,1)">2852</text>
<text style="font-size:10.15px" transform="translate(589.85,228.3) scale(0.85,1)">1604</text>
<text style="font-size:10.15px" transform="translate(621.73,224.8) scale(0.877,1)">1437</text>
<text style="font-size:8.36px" transform="translate(638.01,212.72) scale(0.946,1)">1373</text>
<text style="font-size:7.46px" transform="translate(653.48,203.63) scale(0.921,1)">1316</text>
<text style="font-size:9.4px" transform="translate(293.3,192.5) rotate(90)">1437</text>
<line x1="69.1" y1="94.3" x2="75.3" y2="80.4" stroke="#444" stroke-width="0.7"/><polygon points="77.6,75.4 77.1,81.2 73.6,79.6" fill="#111"/>
<line x1="145.3" y1="194.3" x2="151.4" y2="183.3" stroke="#444" stroke-width="0.7"/><polygon points="154.1,178.5 153.1,184.2 149.8,182.4" fill="#111"/>
<line x1="180.6" y1="186.2" x2="170.3" y2="175.9" stroke="#444" stroke-width="0.7"/><polygon points="166.4,172.0 171.6,174.5 168.9,177.2" fill="#111"/>
<line x1="275.3" y1="211.9" x2="278.8" y2="201.1" stroke="#444" stroke-width="0.7"/><polygon points="280.5,195.9 280.6,201.7 277.0,200.5" fill="#111"/>
<line x1="297.5" y1="187.0" x2="297.5" y2="173.5" stroke="#444" stroke-width="0.7"/><polygon points="297.5,168.0 299.4,173.5 295.6,173.5" fill="#111"/>
<line x1="305.5" y1="173.8" x2="305.1" y2="172.3" stroke="#444" stroke-width="0.7"/><polygon points="303.8,167.0 307.0,171.9 303.3,172.8" fill="#111"/>
<line x1="317.6" y1="172.7" x2="314.8" y2="169.3" stroke="#444" stroke-width="0.7"/><polygon points="311.3,165.0 316.3,168.1 313.3,170.5" fill="#111"/>
<line x1="417.1" y1="97.2" x2="420.6" y2="90.8" stroke="#444" stroke-width="0.7"/><polygon points="423.2,86.0 422.2,91.7 418.9,89.9" fill="#111"/>
<line x1="487.2" y1="213.6" x2="493.6" y2="203.9" stroke="#444" stroke-width="0.7"/><polygon points="496.6,199.3 495.2,204.9 492.0,202.9" fill="#111"/>
<line x1="513.1" y1="199.1" x2="509.2" y2="194.9" stroke="#444" stroke-width="0.7"/><polygon points="505.5,190.8 510.6,193.6 507.8,196.1" fill="#111"/>
<line x1="609.2" y1="227.3" x2="613.3" y2="221.7" stroke="#444" stroke-width="0.7"/><polygon points="616.6,217.3 614.9,222.9 611.8,220.6" fill="#111"/>
<line x1="628.7" y1="217.0" x2="631.7" y2="202.6" stroke="#444" stroke-width="0.7"/><polygon points="632.8,197.2 633.5,203.0 629.8,202.2" fill="#111"/>
<line x1="643.6" y1="206.0" x2="642.1" y2="201.7" stroke="#444" stroke-width="0.7"/><polygon points="640.3,196.5 643.9,201.1 640.3,202.3" fill="#111"/>
<line x1="652.2" y1="199.3" x2="651.3" y2="198.9" stroke="#444" stroke-width="0.7"/><polygon points="646.2,196.8 652.0,197.2 650.5,200.7" fill="#111"/>
</svg></body></html>
